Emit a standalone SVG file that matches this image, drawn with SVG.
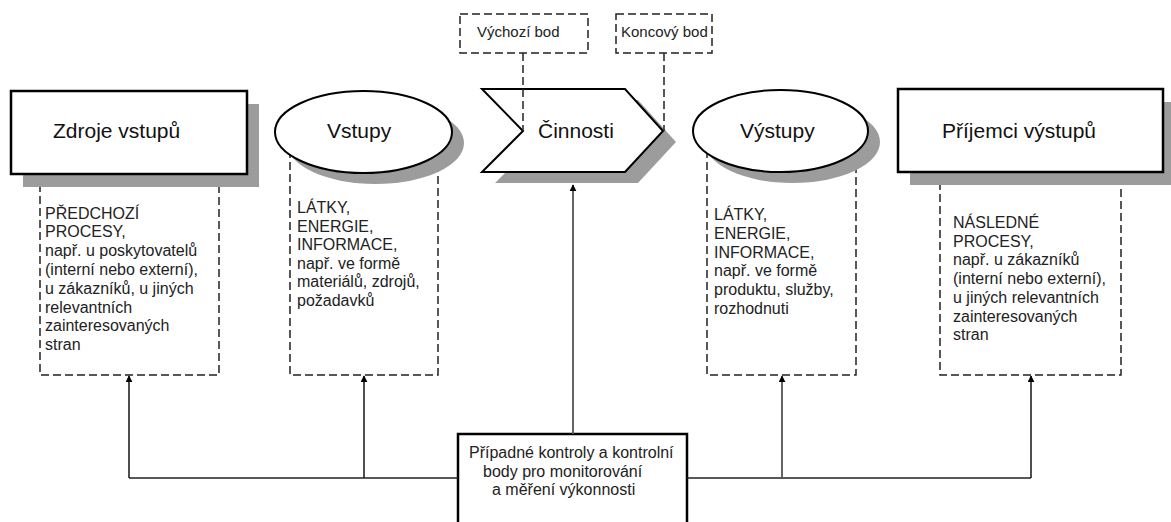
<svg xmlns="http://www.w3.org/2000/svg" width="1171" height="522" viewBox="0 0 1171 522">
<defs>
<style>
.bg{fill:#ffffff}
.node{fill:#ffffff;stroke:#000000;stroke-width:2.5}
.nodethin{fill:#ffffff;stroke:#000000;stroke-width:2}
.shadow{fill:#9c9c9c;stroke:none}
.dash{fill:none;stroke:#222222;stroke-width:1.5;stroke-dasharray:8 4}
.dashbox{fill:#ffffff;stroke:#222222;stroke-width:1.5;stroke-dasharray:8 4}
.title{font-family:"Liberation Sans",Arial,sans-serif;font-size:21px;fill:#111111}
.small{font-family:"Liberation Sans",Arial,sans-serif;font-size:16px;fill:#222222}
.tiny{font-family:"Liberation Sans",Arial,sans-serif;font-size:15px;fill:#222222}
.conn{fill:none;stroke:#222222;stroke-width:1.6}
.conng{fill:none;stroke:#555555;stroke-width:1.8}
</style>
<marker id="arr" viewBox="0 0 10 10" refX="9" refY="5" markerWidth="7" markerHeight="7" markerUnits="userSpaceOnUse" orient="auto">
<path d="M0,0 L10,5 L0,10 Z" fill="#000000"/>
</marker>
</defs>
<rect class="bg" x="0" y="0" width="1171" height="522"/>

<g id="box-zdroje">
<path class="dash" d="M40,172 V375 H219 V172"/>
<text class="small" x="45" y="219">PŘEDCHOZÍ</text>
<text class="small" x="45" y="237">PROCESY,</text>
<text class="small" x="45" y="256">např. u poskytovatelů</text>
<text class="small" x="45" y="275">(interní nebo externí),</text>
<text class="small" x="45" y="294">u zákazníků, u jiných</text>
<text class="small" x="45" y="313">relevantních</text>
<text class="small" x="45" y="331">zainteresovaných</text>
<text class="small" x="45" y="350">stran</text>
</g>

<g id="box-vstupy">
<path class="dash" d="M290,150 V375 H438 V150"/>
<text class="small" x="297" y="213">LÁTKY,</text>
<text class="small" x="297" y="232">ENERGIE,</text>
<text class="small" x="297" y="250">INFORMACE,</text>
<text class="small" x="297" y="269">např. ve formě</text>
<text class="small" x="297" y="287">materiálů, zdrojů,</text>
<text class="small" x="297" y="306">požadavků</text>
</g>

<g id="box-vystupy">
<path class="dash" d="M707,150 V375 H856 V150"/>
<text class="small" x="714" y="220">LÁTKY,</text>
<text class="small" x="714" y="239">ENERGIE,</text>
<text class="small" x="714" y="258">INFORMACE,</text>
<text class="small" x="714" y="276">např. ve formě</text>
<text class="small" x="714" y="295">produktu, služby,</text>
<text class="small" x="714" y="314">rozhodnuti</text>
</g>

<g id="box-prijemci">
<path class="dash" d="M940,170 V375 H1121 V170"/>
<text class="small" x="953" y="228">NÁSLEDNÉ</text>
<text class="small" x="953" y="247">PROCESY,</text>
<text class="small" x="953" y="265">např. u zákazníků</text>
<text class="small" x="953" y="284">(interní nebo externí),</text>
<text class="small" x="953" y="303">u jiných relevantních</text>
<text class="small" x="953" y="322">zainteresovaných</text>
<text class="small" x="953" y="340">stran</text>
</g>

<g id="zdroje-vstupu">
<rect class="shadow" x="23" y="104" width="236" height="83"/>
<rect class="node" x="11" y="91" width="236" height="83"/>
<text class="title" x="53" y="138">Zdroje vstupů</text>
</g>

<g id="vstupy">
<ellipse class="shadow" cx="375.5" cy="143" rx="88.5" ry="41"/>
<ellipse class="nodethin" cx="363.5" cy="132" rx="88.5" ry="41"/>
<text class="title" x="327" y="138">Vstupy</text>
</g>

<g id="cinnosti">
<polygon class="shadow" points="495,100 638,100 676,142 638,183 495,183 536,142"/>
<polygon class="nodethin" points="482,89 625,89 663,131 625,172 482,172 523,131"/>
<text class="title" x="538" y="138">Činnosti</text>
</g>

<g id="vystupy">
<ellipse class="shadow" cx="792.5" cy="142" rx="87.5" ry="41"/>
<ellipse class="nodethin" cx="780.5" cy="131" rx="87.5" ry="41"/>
<text class="title" x="740" y="138">Výstupy</text>
</g>

<g id="prijemci-vystupu">
<rect class="shadow" x="910" y="102" width="265" height="83"/>
<rect class="node" x="898" y="89" width="265" height="83"/>
<text class="title" x="942" y="138">Příjemci výstupů</text>
</g>

<g id="vychozi-bod">
<rect class="dashbox" x="460" y="14" width="128" height="39"/>
<text class="tiny" x="477" y="37">Výchozí bod</text>
</g>

<g id="koncovy-bod">
<rect class="dashbox" x="616" y="14" width="96" height="39"/>
<text class="tiny" x="621" y="37">Koncový bod</text>
</g>

<g id="kontroly">
<rect class="node" x="458" y="434" width="229" height="110"/>
<text class="small" x="469" y="458">Případné kontroly a kontrolní</text>
<text class="small" x="483" y="477">body pro monitorování</text>
<text class="small" x="492" y="495">a měření výkonnosti</text>
</g>

<g id="connectors">
<line class="dash" x1="523" y1="53" x2="523" y2="131"/>
<line class="dash" x1="664" y1="53" x2="664" y2="131"/>
<path class="conn" d="M458,478 H129"/>
<path class="conn" d="M687,478 H1031"/>
<line class="conn" x1="129" y1="478" x2="129" y2="376" marker-end="url(#arr)"/>
<line class="conn" x1="364" y1="478" x2="364" y2="376" marker-end="url(#arr)"/>
<line class="conng" x1="782" y1="478" x2="782" y2="376" marker-end="url(#arr)"/>
<line class="conn" x1="1031" y1="478" x2="1031" y2="376" marker-end="url(#arr)"/>
<line class="conng" x1="573" y1="434" x2="573" y2="185" marker-end="url(#arr)"/>
</g>
</svg>
